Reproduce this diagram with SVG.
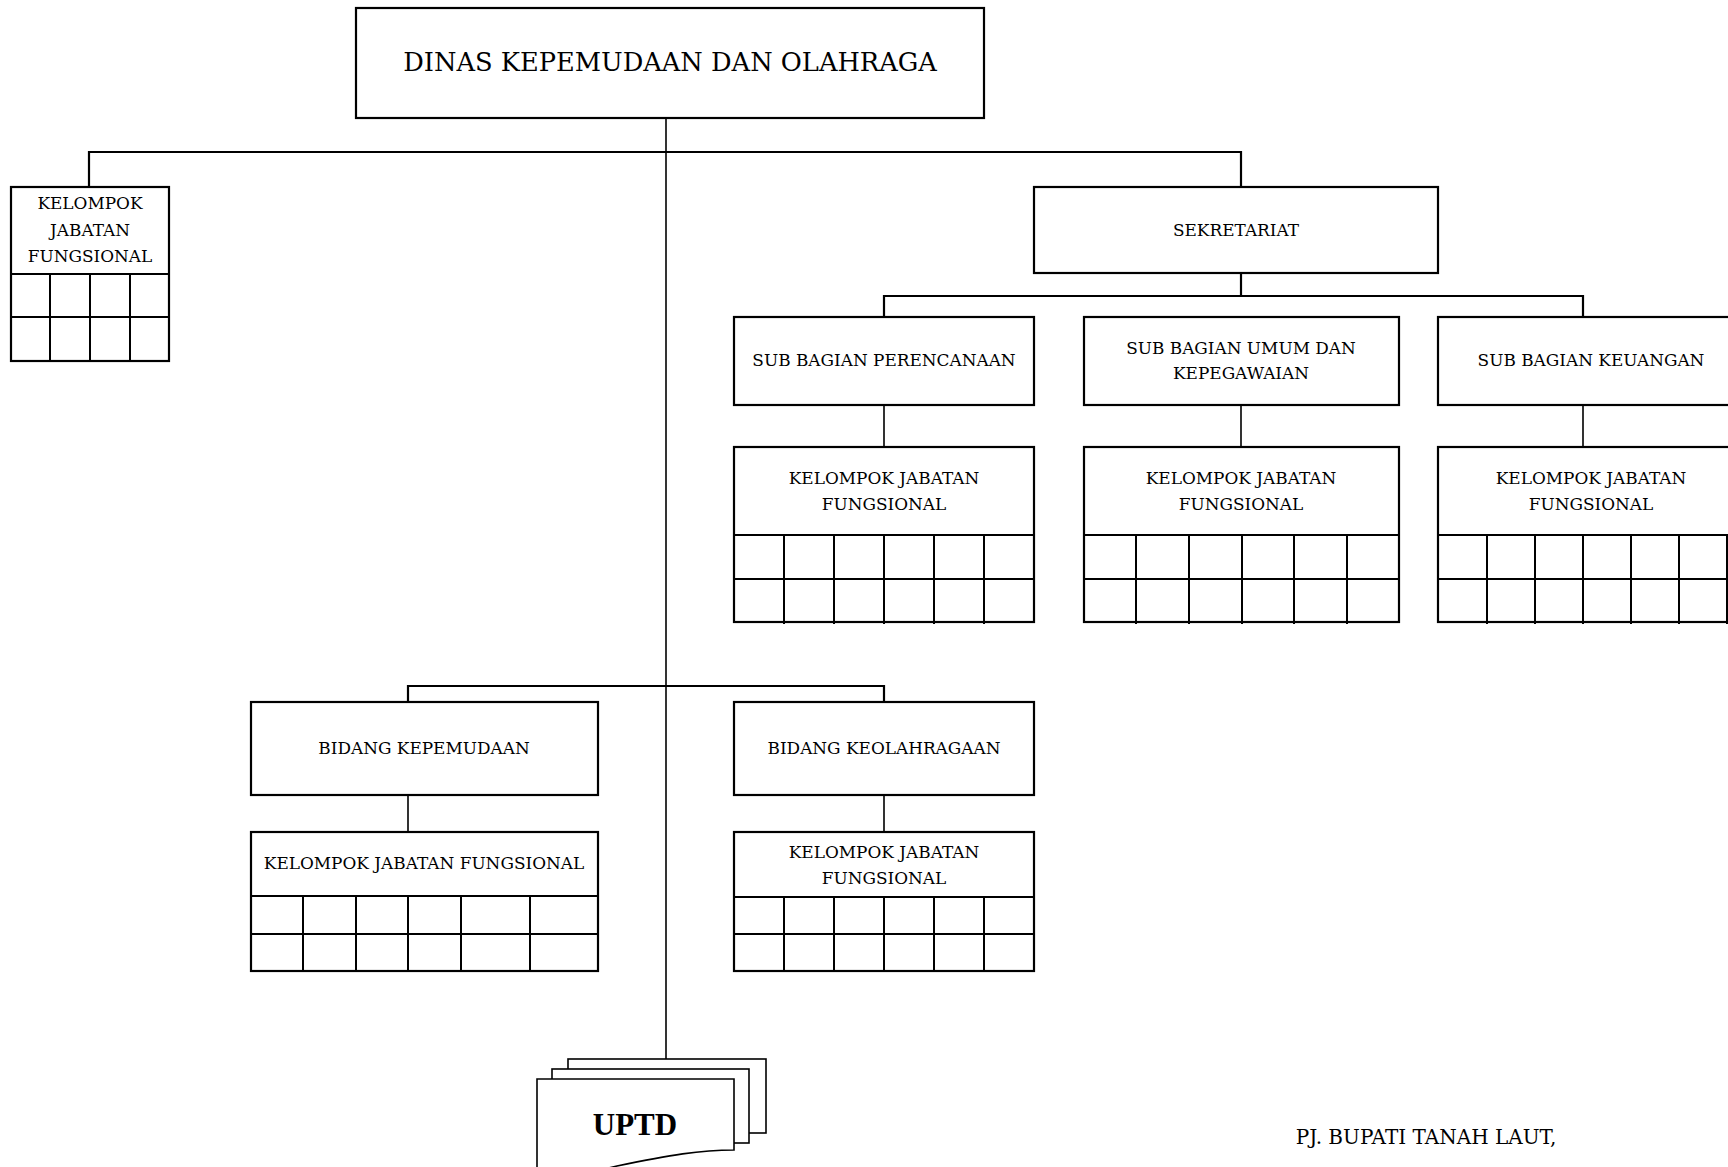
<svg xmlns="http://www.w3.org/2000/svg" width="1728" height="1167" viewBox="0 0 1728 1167">
<style>
.box{fill:#fff;stroke:#000;stroke-width:2.2}
.grid{fill:none;stroke:#000;stroke-width:2}
.con{fill:none;stroke:#000;stroke-width:2.2}
.thin{fill:none;stroke:#000;stroke-width:1.6}
text{font-family:"DejaVu Serif","Liberation Serif",serif;fill:#000;text-anchor:middle;dominant-baseline:central}
.t{font-size:16.9px}
.title{font-size:25.7px}
.sig{font-size:20px}
.uptd{font-family:"Liberation Serif",serif;font-size:31px;font-weight:bold}
.doc{fill:#fff;stroke:#000;stroke-width:1.6}
</style>
<rect width="1728" height="1167" fill="#fff"/>
<g id="connectors">
<path class="thin" d="M666,118 V1059"/>
<path class="con" d="M89,187 V152 H1241 V187"/>
<path class="con" d="M1241,273 V296"/>
<path class="con" d="M884,317 V296 H1583 V317"/>
<path class="thin" d="M884,405 V447 M1241,405 V447 M1583,405 V447"/>
<path class="con" d="M408,702 V686 H884 V702"/>
<path class="thin" d="M408,795 V832 M884,795 V832"/>
</g>
<g id="dinas">
<rect class="box" x="356" y="8" width="628" height="110"/>
<text class="title" x="670" y="62">DINAS KEPEMUDAAN DAN OLAHRAGA</text>
</g>
<g id="kjf-kepala">
<rect class="box" x="11" y="187" width="158" height="174"/>
<path class="grid" d="M11,274 H169 M11,317 H169 M50,274 V361 M90,274 V361 M130,274 V361"/>
<text class="t" x="90" y="203">KELOMPOK</text>
<text class="t" x="90" y="230">JABATAN</text>
<text class="t" x="90" y="256">FUNGSIONAL</text>
</g>
<g id="sekretariat">
<rect class="box" x="1034" y="187" width="404" height="86"/>
<text class="t" x="1236" y="230">SEKRETARIAT</text>
</g>
<g id="sub-perencanaan">
<rect class="box" x="734" y="317" width="300" height="88"/>
<text class="t" x="884" y="360">SUB BAGIAN PERENCANAAN</text>
</g>
<g id="sub-umum">
<rect class="box" x="1084" y="317" width="315" height="88"/>
<text class="t" x="1241" y="348">SUB BAGIAN UMUM DAN</text>
<text class="t" x="1241" y="373">KEPEGAWAIAN</text>
</g>
<g id="sub-keuangan">
<rect class="box" x="1438" y="317" width="304" height="88"/>
<text class="t" x="1591" y="360">SUB BAGIAN KEUANGAN</text>
</g>
<g id="kjf-perencanaan">
<rect class="box" x="734" y="447" width="300" height="175"/>
<path class="grid" d="M734,535 H1034 M734,579 H1034 M784,535 V624 M834,535 V624 M884,535 V624 M934,535 V624 M984,535 V624"/>
<text class="t" x="884" y="478">KELOMPOK JABATAN</text>
<text class="t" x="884" y="504">FUNGSIONAL</text>
</g>
<g id="kjf-umum">
<rect class="box" x="1084" y="447" width="315" height="175"/>
<path class="grid" d="M1084,535 H1399 M1084,579 H1399 M1136,535 V624 M1189,535 V624 M1242,535 V624 M1294,535 V624 M1347,535 V624"/>
<text class="t" x="1241" y="478">KELOMPOK JABATAN</text>
<text class="t" x="1241" y="504">FUNGSIONAL</text>
</g>
<g id="kjf-keuangan">
<rect class="box" x="1438" y="447" width="304" height="175"/>
<path class="grid" d="M1438,535 H1742 M1438,579 H1742 M1487,535 V624 M1535,535 V624 M1583,535 V624 M1631,535 V624 M1679,535 V624 M1727,535 V624"/>
<text class="t" x="1591" y="478">KELOMPOK JABATAN</text>
<text class="t" x="1591" y="504">FUNGSIONAL</text>
</g>
<g id="bidang-kepemudaan">
<rect class="box" x="251" y="702" width="347" height="93"/>
<text class="t" x="424" y="748">BIDANG KEPEMUDAAN</text>
</g>
<g id="bidang-keolahragaan">
<rect class="box" x="734" y="702" width="300" height="93"/>
<text class="t" x="884" y="748">BIDANG KEOLAHRAGAAN</text>
</g>
<g id="kjf-kepemudaan">
<rect class="box" x="251" y="832" width="347" height="139"/>
<path class="grid" d="M251,896 H598 M251,934 H598 M303,896 V971 M356,896 V971 M408,896 V971 M461,896 V971 M530,896 V971"/>
<text class="t" x="424" y="863">KELOMPOK JABATAN FUNGSIONAL</text>
</g>
<g id="kjf-keolahragaan">
<rect class="box" x="734" y="832" width="300" height="139"/>
<path class="grid" d="M734,897 H1034 M734,934 H1034 M784,897 V971 M834,897 V971 M884,897 V971 M934,897 V971 M984,897 V971"/>
<text class="t" x="884" y="852">KELOMPOK JABATAN</text>
<text class="t" x="884" y="878">FUNGSIONAL</text>
</g>
<g id="uptd">
<rect class="doc" x="568" y="1059" width="198" height="74"/>
<rect class="doc" x="552" y="1069" width="197" height="74"/>
<path class="doc" d="M537,1079 H734 V1150 C700,1150 670,1155 617,1166 L537,1185 Z"/>
<text class="uptd" x="635" y="1124">UPTD</text>
</g>
<g id="signature">
<text class="sig" x="1426" y="1137">PJ. BUPATI TANAH LAUT,</text>
</g>
</svg>
